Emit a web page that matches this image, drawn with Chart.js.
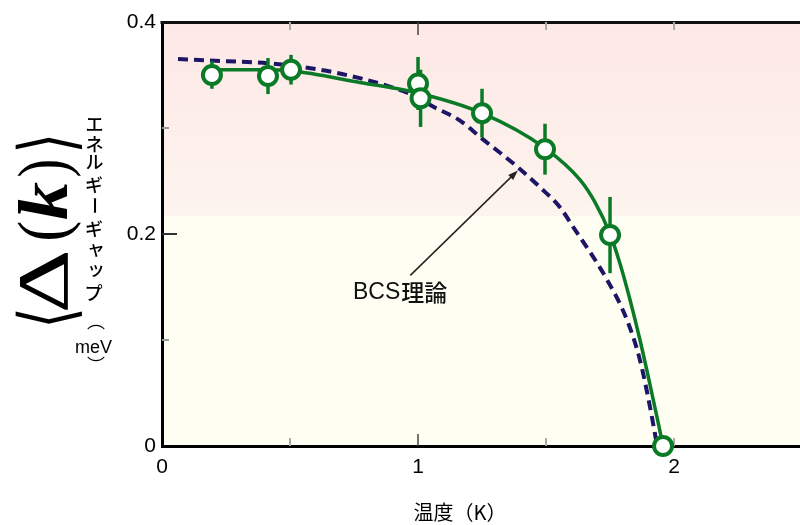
<!DOCTYPE html>
<html>
<head>
<meta charset="utf-8">
<script src="https://cdn.jsdelivr.net/npm/chart.js@4.4.1/dist/chart.umd.min.js"></script>
<style>
  html, body { margin: 0; padding: 0; background: #fff; }
  #wrap { width: 800px; height: 525px; }
</style>
</head>
<body>
<div id="wrap"><canvas id="gap-chart" width="800" height="525"></canvas></div>
<script>
// measured points (temperature K, gap meV, error bar half-height)
const tempMeasured = [0.195, 0.414, 0.504, 1.0, 1.01, 1.25, 1.496, 1.75, 1.957];
const gapMeasured = [0.350, 0.349, 0.355, 0.342, 0.328, 0.314, 0.280, 0.199, 0.0];
const gapError = [0.013, 0.017, 0.014, 0.025, 0.027, 0.023, 0.024, 0.036, 0];

// green guide curve through the data
const tempFit = [0.195, 0.414, 0.504, 0.773, 1.0, 1.25, 1.496, 1.633, 1.691, 1.75, 1.789, 1.828, 1.867, 1.906, 1.938, 1.957];
const gapFit = [0.355, 0.355, 0.354, 0.343, 0.333, 0.314, 0.281, 0.251, 0.230, 0.200, 0.172, 0.138, 0.100, 0.058, 0.022, 0.0];

// BCS theory (dashed)
const tempBCS = [0.0625, 0.254, 0.42, 0.617, 0.773, 0.902, 0.98, 1.06, 1.164, 1.25, 1.39, 1.477, 1.555, 1.605, 1.738, 1.816, 1.867, 1.906, 1.934];
const gapBCS = [0.365, 0.363, 0.361, 0.355, 0.347, 0.338, 0.331, 0.320, 0.307, 0.290, 0.263, 0.244, 0.225, 0.207, 0.157, 0.119, 0.081, 0.037, 0.0];

const xTicks = [0, 1, 2];
const yTicks = [0, 0.2, 0.4];
const xMinor = [0.5, 1.5, 2];
const yMinor = [0.1, 0.3];

const GREEN = '#0b7a26';
const NAVY = '#1d1566';
const SANS = "'Liberation Sans', Arial, sans-serif";
const CJK = "'Noto Sans CJK JP', sans-serif";
const SERIF = "'Liberation Serif', 'DejaVu Serif', serif";

const toPoints = (xs, ys) => xs.map((x, i) => ({ x, y: ys[i] }));

// draw a glyph so its ink box is centred on (cx, cy); optional stretch to w x h
function glyph(ctx, s, font, cx, cy, w, h) {
  ctx.save();
  ctx.font = font;
  ctx.textAlign = 'left';
  ctx.textBaseline = 'alphabetic';
  const m = ctx.measureText(s);
  const gw = m.actualBoundingBoxLeft + m.actualBoundingBoxRight;
  const gh = m.actualBoundingBoxAscent + m.actualBoundingBoxDescent;
  ctx.translate(cx, cy);
  if (w && h) ctx.scale(w / gw, h / gh);
  ctx.fillText(s, -(m.actualBoundingBoxRight - m.actualBoundingBoxLeft) / 2,
    -(m.actualBoundingBoxDescent - m.actualBoundingBoxAscent) / 2);
  ctx.restore();
}

const backdrop = {
  id: 'backdrop',
  beforeDraw(chart) {
    const { ctx, chartArea: a, scales: { y } } = chart;
    const split = y.getPixelForValue(0.217);
    ctx.save();
    ctx.fillStyle = '#fff';
    ctx.fillRect(0, 0, chart.width, chart.height);
    const g = ctx.createLinearGradient(0, a.top, 0, split);
    g.addColorStop(0, '#fde8e6');
    g.addColorStop(1, '#fdf4ee');
    ctx.fillStyle = g;
    ctx.fillRect(a.left, a.top, a.right - a.left, split - a.top);
    ctx.fillStyle = '#fffef3';
    ctx.fillRect(a.left, split, a.right - a.left, a.bottom - split);
    ctx.restore();
  }
};

const frameTicks = {
  id: 'frameTicks',
  beforeDatasetsDraw(chart) {
    const { ctx, chartArea: a, scales: { x, y } } = chart;
    const line = (x1, y1, x2, y2, color, w) => {
      ctx.strokeStyle = color;
      ctx.lineWidth = w;
      ctx.beginPath();
      ctx.moveTo(x1, y1);
      ctx.lineTo(x2, y2);
      ctx.stroke();
    };
    ctx.save();
    line(a.left - 1.5, a.top + 0.5, a.right, a.top + 0.5, '#111', 3);
    yMinor.forEach(v => { const p = y.getPixelForValue(v); line(a.left, p, a.left + 7, p, '#999', 2); });
    line(a.left, y.getPixelForValue(0.2), a.left + 15, y.getPixelForValue(0.2), '#333', 2);
    xMinor.forEach(v => {
      const p = x.getPixelForValue(v);
      line(p, a.bottom, p, a.bottom - 8, '#aaa', 2);
      line(p, a.top, p, a.top + 8, '#aaa', 2);
    });
    const p1 = x.getPixelForValue(1);
    line(p1, a.bottom, p1, a.bottom - 12, '#444', 1.5);
    line(p1, a.top, p1, a.top + 13, '#444', 1.5);
    ctx.restore();
  }
};

const errorBars = {
  id: 'errorBars',
  beforeDatasetDraw(chart, args) {
    if (args.index !== 0) return;
    const { ctx, scales: { x, y } } = chart;
    ctx.save();
    ctx.strokeStyle = GREEN;
    ctx.lineWidth = 3.5;
    tempMeasured.forEach((t, i) => {
      if (!gapError[i]) return;
      const px = x.getPixelForValue(t);
      ctx.beginPath();
      ctx.moveTo(px, y.getPixelForValue(gapMeasured[i] - gapError[i]));
      ctx.lineTo(px, y.getPixelForValue(gapMeasured[i] + gapError[i]));
      ctx.stroke();
    });
    ctx.restore();
  }
};

const annotations = {
  id: 'annotations',
  afterDraw(chart) {
    const { ctx, scales: { x, y } } = chart;
    ctx.save();
    ctx.fillStyle = '#000';

    // y title: <Δ(k)> rotated
    ctx.save();
    ctx.translate(67, 225);
    ctx.rotate(-Math.PI / 2);
    glyph(ctx, '\u27E8', "60px 'DejaVu Sans'", -92.5, -18.5, 13, 67);
    glyph(ctx, '\u0394', '56px ' + SERIF, -56.5, -24.5, 57, 49);
    glyph(ctx, '(', '56px ' + SERIF, -6, -18.5, 17, 67);
    glyph(ctx, 'k', 'italic bold 60px ' + SERIF, 24, -23.5, 38, 47);
    glyph(ctx, ')', '56px ' + SERIF, 56.5, -18.5, 16, 67);
    glyph(ctx, '\u27E9', "60px 'DejaVu Sans'", 81.5, -18.5, 13, 67);
    ctx.restore();

    // y title: エネルギーギャップ（meV） written vertically
    const kana = [['エ', 94.5, 124.5], ['ネ', 94.5, 143.5], ['ル', 94.5, 162.5], ['ギ', 94.5, 184],
      ['ギ', 94.5, 228], ['ャ', 96, 250], ['ッ', 96, 271.5], ['プ', 94.5, 293]];
    kana.forEach(([c, cx, cy]) => glyph(ctx, c, '500 18px ' + CJK, cx, cy));
    ctx.save();
    ctx.translate(94.5, 205.5);
    ctx.rotate(Math.PI / 2);
    glyph(ctx, 'ー', '500 18px ' + CJK, 0, 0);
    ctx.restore();
    glyph(ctx, '\uFE35', '18px ' + CJK, 96, 327);
    glyph(ctx, 'meV', '18px ' + SANS, 94, 346.5);
    glyph(ctx, '\uFE36', '18px ' + CJK, 96, 359);

    // x title
    ctx.font = '20px ' + CJK;
    ctx.textAlign = 'center';
    ctx.textBaseline = 'middle';
    ctx.fillText('温度（K）', 460, 512);

    // BCS arrow + label
    const tx = x.getPixelForValue(0.97), ty = y.getPixelForValue(0.161);
    const hx = x.getPixelForValue(1.39), hy = y.getPixelForValue(0.260);
    const ang = Math.atan2(hy - ty, hx - tx);
    ctx.strokeStyle = '#222';
    ctx.lineWidth = 1.5;
    ctx.beginPath();
    ctx.moveTo(tx, ty);
    ctx.lineTo(hx - 6 * Math.cos(ang), hy - 6 * Math.sin(ang));
    ctx.stroke();
    ctx.beginPath();
    ctx.moveTo(hx, hy);
    ctx.lineTo(hx - 10 * Math.cos(ang) + 3.5 * Math.sin(ang), hy - 10 * Math.sin(ang) - 3.5 * Math.cos(ang));
    ctx.lineTo(hx - 10 * Math.cos(ang) - 3.5 * Math.sin(ang), hy - 10 * Math.sin(ang) + 3.5 * Math.cos(ang));
    ctx.closePath();
    ctx.fillStyle = '#222';
    ctx.fill();
    ctx.fillStyle = '#111';
    ctx.textAlign = 'left';
    ctx.font = '23px ' + SANS;
    ctx.fillText('BCS', 353, 293);
    const bw = ctx.measureText('BCS').width;
    ctx.font = '500 23px ' + CJK;
    ctx.fillText('理論', 353 + bw + 1, 292);
    ctx.restore();
  }
};

const tickFont = { family: SANS, size: 21 };

new Chart(document.getElementById('gap-chart').getContext('2d'), {
  type: 'scatter',
  data: {
    datasets: [
      {
        label: '測定値',
        data: toPoints(tempMeasured, gapMeasured),
        pointRadius: 9,
        pointBorderWidth: 4,
        pointBackgroundColor: '#fff',
        pointBorderColor: GREEN,
        showLine: false,
        clip: false,
        order: 0
      },
      {
        type: 'line',
        label: 'フィット',
        data: toPoints(tempFit, gapFit),
        borderColor: GREEN,
        borderWidth: 3.5,
        pointRadius: 0,
        cubicInterpolationMode: 'monotone',
        fill: false,
        clip: false,
        order: 1
      },
      {
        type: 'line',
        label: 'BCS理論',
        data: toPoints(tempBCS, gapBCS),
        borderColor: NAVY,
        borderWidth: 4,
        borderDash: [10, 6],
        pointRadius: 0,
        cubicInterpolationMode: 'monotone',
        fill: false,
        clip: false,
        order: 2
      }
    ]
  },
  options: {
    responsive: false,
    animation: false,
    devicePixelRatio: 1,
    layout: { autoPadding: false, padding: { top: 22, right: 0, bottom: 0, left: 0 } },
    plugins: {
      legend: { display: false },
      tooltip: { enabled: false }
    },
    scales: {
      x: {
        type: 'linear',
        min: 0,
        max: 2.492,
        afterBuildTicks: s => { s.ticks = xTicks.map(v => ({ value: v })); },
        afterFit: s => { s.height = 79; s.paddingLeft = 0; s.paddingRight = 0; },
        ticks: { font: tickFont, color: '#000', padding: 9, maxRotation: 0, autoSkip: false,
          callback: v => String(v) },
        grid: { display: false, drawTicks: false },
        border: { color: '#000', width: 3 }
      },
      y: {
        type: 'linear',
        min: 0,
        max: 0.4,
        afterBuildTicks: s => { s.ticks = yTicks.map(v => ({ value: v })); },
        afterFit: s => { s.width = 162; s.paddingTop = 0; s.paddingBottom = 0; },
        ticks: { font: tickFont, color: '#000', padding: 6,
          callback: v => (v === 0 ? '0' : v.toFixed(1)) },
        grid: { display: false, drawTicks: false },
        border: { color: '#000', width: 3 }
      }
    }
  },
  plugins: [backdrop, frameTicks, errorBars, annotations]
});
</script>
</body>
</html>
